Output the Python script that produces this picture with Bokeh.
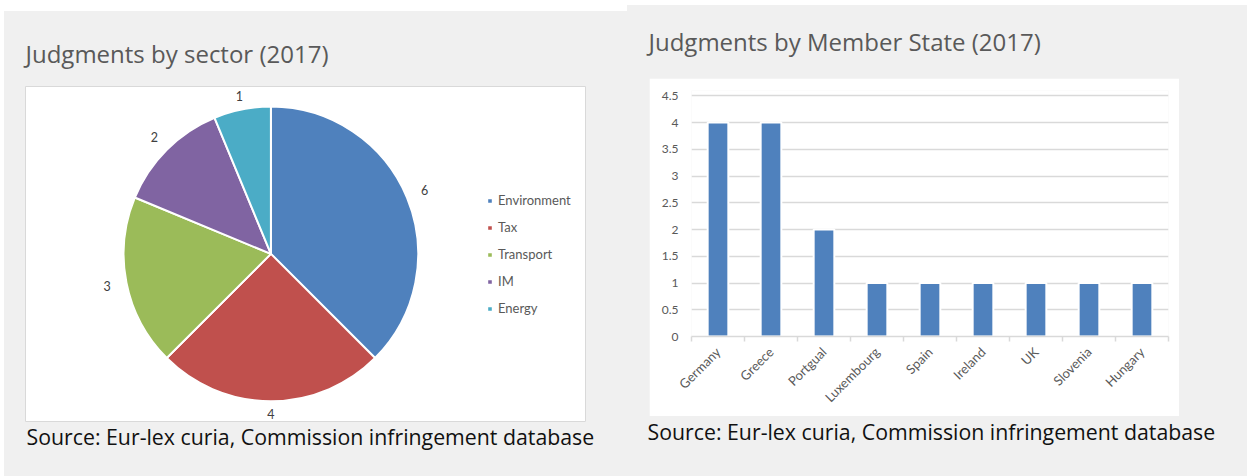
import math
import numpy as np
from bokeh.plotting import figure
from bokeh.models import (ColumnDataSource, Label, Legend, LegendItem, Range1d, LinearAxis,
                          FixedTicker, SingleIntervalTicker, CustomJSTickFormatter, Spacer, Grid)
from bokeh.layouts import row, column
from bokeh.core.properties import value
from bokeh.embed import file_html
from bokeh.resources import INLINE
from bokeh.core.validation import silence
from bokeh.core.validation.warnings import MISSING_RENDERERS

silence(MISSING_RENDERERS, True)

# ---------------- data ----------------
sectors = ["Environment", "Tax", "Transport", "IM", "Energy"]
sector_counts = [6, 4, 3, 2, 1]
sector_colors = ["#4f81bd", "#c0504d", "#9bbb59", "#8064a2", "#4bacc6"]

countries = ["Germany", "Greece", "Portgual", "Luxembourg", "Spain", "Ireland", "UK", "Slovenia", "Hungary"]
country_counts = [4, 4, 2, 1, 1, 1, 1, 1, 1]

title_left = "Judgments by sector (2017)"
title_right = "Judgments by Member State (2017)"
source_text = "Source: Eur-lex curia, Commission infringement database"

# ---------------- styles ----------------
BG = "#f0f0f0"
TITLE_COLOR = "#595959"
AXIS_COLOR = "#595959"
GRID_COLOR = "#d9d9d9"
BAR_COLOR = "#4f81bd"
SMALL_FONT = "Lato"
BIG_FONT = "Open Sans"


def text_panel(w, h, txt, x, y, size, color):
    f = figure(width=w, height=h, x_range=Range1d(0, 1), y_range=Range1d(0, 1),
               toolbar_location=None, output_backend="svg", x_axis_type=None, y_axis_type=None,
               min_border=0, title=None, outline_line_color=None,
               background_fill_color=BG, border_fill_color=BG)
    f.add_layout(Label(x=x, y=y, x_units="screen", y_units="screen", text=txt,
                       text_font=BIG_FONT, text_font_size=f"{size}px", text_color=color,
                       text_baseline="alphabetic", text_align="left"))
    return f


# ---------------- pie ----------------
total = sum(sector_counts)
cum = np.cumsum([0] + sector_counts)
start = np.pi / 2 - 2 * np.pi * cum[:-1] / total
end = np.pi / 2 - 2 * np.pi * cum[1:] / total
mid = (start + end) / 2
R = 147.3
# label distance: a little farther out where the label sits beside the pie
LR = 160.0 + 7.0 * np.abs(np.cos(mid))
pie_src = ColumnDataSource(dict(
    sector=sectors, count=sector_counts, color=sector_colors,
    start=start, end=end,
    lx=LR * np.cos(mid), ly=LR * np.sin(mid),
    lbl=[str(c) for c in sector_counts]))

pie = figure(width=561, height=336, x_range=Range1d(-245.4, 315.6), y_range=Range1d(-168.6, 167.4),
             toolbar_location=None, output_backend="svg", x_axis_type=None, y_axis_type=None,
             min_border=0, title=None, background_fill_color="white", border_fill_color="white",
             outline_line_color=GRID_COLOR)
w = pie.wedge(x=0, y=0, radius=R, start_angle="start", end_angle="end", direction="clock",
              fill_color="color", line_color="white", line_width=2, source=pie_src)
pie.text(x="lx", y="ly", text="lbl", source=pie_src, text_align="center", text_baseline="middle",
         text_font=value(SMALL_FONT), text_font_size="12.5px", text_color="#404040")

legend = Legend(items=[LegendItem(label=s, renderers=[w], index=i) for i, s in enumerate(sectors)],
                location=(461, 106), border_line_color=None, background_fill_alpha=0,
                padding=0, margin=0, spacing=11, label_height=16, glyph_height=7, glyph_width=7,
                label_standoff=5, label_text_font=SMALL_FONT, label_text_font_size="13px",
                label_text_color=AXIS_COLOR)
pie.add_layout(legend)

# ---------------- bars ----------------
centers = [i + 0.5 for i in range(len(countries))]
bounds = list(range(len(countries) + 1))

bar = figure(width=530, height=338, x_range=Range1d(0, len(countries)), y_range=Range1d(0, 4.6),
             toolbar_location=None, output_backend="svg", x_axis_type=None, y_axis_type=None,
             min_border_left=42, min_border_right=11, min_border_top=12, min_border_bottom=80,
             title=None, background_fill_color="white", border_fill_color="white",
             outline_line_color=None)

yticker = SingleIntervalTicker(interval=0.5, num_minor_ticks=0)
yaxis = LinearAxis(ticker=yticker,
                   formatter=CustomJSTickFormatter(code="return String(Math.round(tick*10)/10);"),
                   axis_line_color=None, major_tick_in=0, major_tick_out=0,
                   minor_tick_in=0, minor_tick_out=0, major_label_standoff=13,
                   major_label_text_font=SMALL_FONT, major_label_text_font_size="12px",
                   major_label_text_color=AXIS_COLOR)
bar.add_layout(yaxis, "left")
bar.add_layout(Grid(dimension=1, ticker=yticker, grid_line_color=GRID_COLOR, grid_line_width=1.5))

xaxis = LinearAxis(ticker=FixedTicker(ticks=centers, minor_ticks=bounds),
                   major_label_overrides={c: n for c, n in zip(centers, countries)},
                   major_label_orientation=math.pi / 4,
                   axis_line_color=GRID_COLOR, axis_line_width=1.5,
                   major_tick_in=0, major_tick_out=0, minor_tick_in=0, minor_tick_out=5,
                   minor_tick_line_color=GRID_COLOR, minor_tick_line_width=1.5,
                   major_label_standoff=8,
                   major_label_text_font=SMALL_FONT, major_label_text_font_size="13px",
                   major_label_text_color=AXIS_COLOR)
bar.add_layout(xaxis, "below")

bar.vbar(x=centers, top=country_counts, width=0.39, fill_color=BAR_COLOR,
         line_color="white", line_width=2)

# ---------------- layout ----------------
title_L = text_panel(623, 75, title_left, 21, 33, 24, TITLE_COLOR)
src_L = text_panel(623, 54, source_text, 22, 40.5, 21.3, "#111111")
title_R = text_panel(620, 73, title_right, 21, 37, 24, TITLE_COLOR)
src_R = text_panel(620, 60, source_text, 20, 45.5, 21.3, "#111111")

bgs = {"background-color": BG}
left_panel = column(title_L,
                    row(Spacer(width=21, height=336, styles=bgs), pie,
                        Spacer(width=41, height=336, styles=bgs)),
                    src_L, styles=bgs)
left = column(Spacer(width=623, height=11), left_panel)
right_panel = column(title_R,
                     row(Spacer(width=22, height=338, styles=bgs), bar,
                         Spacer(width=68, height=338, styles=bgs)),
                     src_R, styles=bgs)
right = column(Spacer(width=620, height=5), right_panel)
root = row(Spacer(width=4, height=476), left, right)

open("out.html", "w").write(file_html(root, INLINE))
